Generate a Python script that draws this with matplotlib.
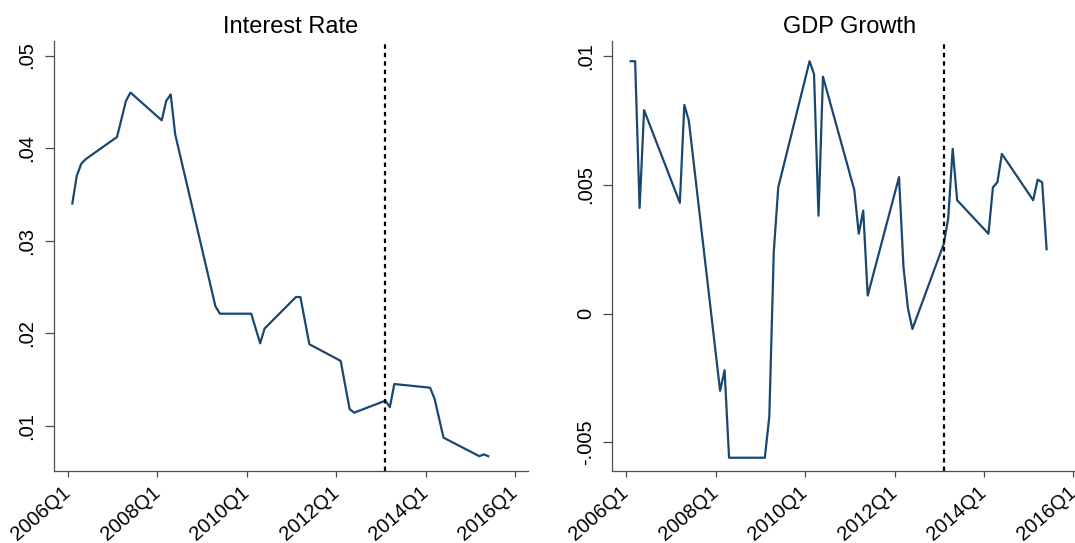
import matplotlib
matplotlib.use('Agg')
import matplotlib.pyplot as plt
import matplotlib.transforms as mtransforms

plt.rcParams['font.family'] = ['Liberation Sans', 'DejaVu Sans']

# quarters are coded as year + q/10 (2006.1 = 2006Q1 ...)
ir_x = [2006.1, 2006.2, 2006.3, 2006.4, 2007.1, 2007.3, 2007.4, 2008.1, 2008.2, 2008.3, 2008.4,
        2009.3, 2009.4, 2010.1, 2010.3, 2010.4, 2011.1, 2011.2, 2011.4, 2012.1, 2012.3, 2012.4,
        2013.1, 2013.2, 2013.3, 2014.1, 2014.2, 2014.4, 2015.2, 2015.3, 2015.4]
ir_y = [0.0340, 0.0370, 0.0383, 0.0388, 0.0412, 0.0451, 0.0460, 0.0430, 0.0451, 0.0458, 0.0415,
        0.0229, 0.0221, 0.0221, 0.0189, 0.0205, 0.0239, 0.0239, 0.0188, 0.0170, 0.0118, 0.0114,
        0.0127, 0.0120, 0.0145, 0.0141, 0.0129, 0.0087, 0.0067, 0.0069, 0.0067]

gdp_x = [2006.1, 2006.2, 2006.3, 2006.4, 2007.2, 2007.3, 2007.4, 2008.1, 2008.2, 2008.3,
         2009.1, 2009.2, 2009.3, 2009.4, 2010.1, 2010.2, 2010.3, 2010.4, 2011.1, 2011.2,
         2011.3, 2011.4, 2012.1, 2012.2, 2012.3, 2012.4, 2013.1, 2013.2, 2013.3, 2013.4,
         2014.1, 2014.2, 2014.3, 2014.4, 2015.1, 2015.2, 2015.3, 2015.4]
gdp_y = [0.0098, 0.0098, 0.0041, 0.0079, 0.0043, 0.0081, 0.0075, -0.0030, -0.0022, -0.0056,
         -0.0056, -0.0040, 0.0024, 0.0049, 0.0098, 0.0093, 0.0038, 0.0092, 0.0048, 0.0031,
         0.0040, 0.0007, 0.0053, 0.0018, 0.0002, -0.0006, 0.0027, 0.0037, 0.0064, 0.0044,
         0.0031, 0.0049, 0.0051, 0.0062, 0.0044, 0.0052, 0.0051, 0.0025]

x_ticks = [2006, 2008, 2010, 2012, 2014, 2016]
x_labels = ['2006Q1', '2008Q1', '2010Q1', '2012Q1', '2014Q1', '2016Q1']
ir_ticks = [0.01, 0.02, 0.03, 0.04, 0.05]
ir_labels = ['.01', '.02', '.03', '.04', '.05']
gdp_ticks = [-0.005, 0, 0.005, 0.01]
gdp_labels = ['-.005', '0', '.005', '.01']
break_date = 2013.1

line_color = '#1a476f'
axis_color = '#4d4d4d'

fig = plt.figure(figsize=(10.75, 5.43), dpi=100)
ax1 = fig.add_axes([0.0502, 0.1326, 0.4406, 0.7912])
ax2 = fig.add_axes([0.5696, 0.1326, 0.4406, 0.7912])

panels = [
    (ax1, ir_x, ir_y, 'Interest Rate', ir_ticks, ir_labels, (0.00510, 0.05153)),
    (ax2, gdp_x, gdp_y, 'GDP Growth', gdp_ticks, gdp_labels, (-0.006115, 0.01057)),
]

# nudge the slanted date labels a little to the right of their ticks
shift = mtransforms.ScaledTranslation(6 / 72, 0, fig.dpi_scale_trans)

for ax, xs, ys, title, yt, yl, ylim in panels:
    ax.plot(xs, ys, color=line_color, lw=1.6)
    ax.axvline(break_date, color='black', lw=1.6, linestyle=(0, (2, 1.8)))
    ax.set_xlim(2005.69, 2016.28)
    ax.set_ylim(*ylim)
    ax.set_title(title, fontsize=17, pad=6)
    ax.set_xticks(x_ticks)
    ax.set_xticklabels(x_labels, fontsize=14.5)
    for lab in ax.get_xticklabels():
        lab.set_rotation(41)
        lab.set_ha('right')
        lab.set_va('center')
        lab.set_rotation_mode('anchor')
        lab.set_transform(lab.get_transform() + shift)
    ax.set_yticks(yt)
    ax.set_yticklabels(yl, fontsize=14.5, rotation=90, va='center')
    ax.tick_params(direction='out', width=0.9, color=axis_color)
    ax.tick_params(axis='y', length=6.5, pad=6)
    ax.tick_params(axis='x', length=4.5, pad=9)
    for side in ['top', 'right']:
        ax.spines[side].set_visible(False)
    for side in ['left', 'bottom']:
        ax.spines[side].set_color(axis_color)
        ax.spines[side].set_linewidth(0.9)

plt.savefig('out.png', dpi=100)
